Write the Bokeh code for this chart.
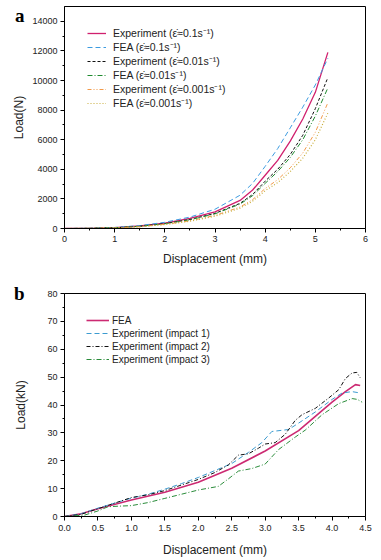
from bokeh.plotting import figure
from bokeh.models import (Range1d, FixedTicker, Legend, LegendItem, LinearAxis,
                          PrintfTickFormatter)
from bokeh.layouts import column
from bokeh.embed import file_html
from bokeh.resources import INLINE

FONT = "Liberation Sans"

# ---------------- panel a data ----------------
xa = [0, 0.5, 1, 1.5, 2, 2.5, 3, 3.5, 3.75, 4, 4.25, 4.5, 4.75, 5, 5.25]
exp_01 = [0, 15, 60, 170, 370, 680, 1120, 1900, 2600, 3600, 4600, 5900, 7400, 9200, 11900]
fea_01 = [0, 18, 70, 195, 420, 770, 1300, 2250, 3050, 4200, 5400, 6800, 8200, 9700, 11500]
exp_001 = [0, 12, 50, 150, 330, 610, 1020, 1700, 2300, 3200, 4000, 5000, 6300, 8100, 10200]
fea_001 = [0, 12, 48, 145, 320, 590, 990, 1650, 2220, 3050, 3850, 4800, 6000, 7600, 9500]
exp_0001 = [0, 8, 40, 120, 280, 520, 880, 1450, 1950, 2700, 3300, 4100, 5100, 6500, 8500]
fea_0001 = [0, 8, 38, 115, 265, 490, 830, 1370, 1850, 2550, 3100, 3850, 4750, 6000, 7800]
labels_a = ["Experiment (\u03b5\u0307\u22480.1s\u207b\u00b9)",
            "FEA (\u03b5\u0307\u22480.1s\u207b\u00b9)",
            "Experiment (\u03b5\u0307\u22480.01s\u207b\u00b9)",
            "FEA (\u03b5\u0307\u22480.01s\u207b\u00b9)",
            "Experiment (\u03b5\u0307\u22480.001s\u207b\u00b9)",
            "FEA (\u03b5\u0307\u22480.001s\u207b\u00b9)"]
xticks_a = [0, 1, 2, 3, 4, 5, 6]
yticks_a = [0, 2000, 4000, 6000, 8000, 10000, 12000, 14000]
panel_a = "a"

# ---------------- panel b data ----------------
x_fea = [0, 0.25, 0.5, 1.0, 1.5, 2.0, 2.5, 3.0, 3.5, 4.0, 4.2, 4.35, 4.42]
y_fea = [0, 1.0, 2.8, 5.9, 8.7, 12.3, 17.3, 23.5, 30.8, 41.0, 44.8, 47.3, 47.0]
x_e1 = [0, 0.25, 0.5, 0.75, 1.0, 1.25, 1.5, 1.75, 2.0, 2.25, 2.5, 2.75, 2.95, 3.1, 3.35, 3.5, 3.75, 4.0, 4.15, 4.3, 4.42]
y_e1 = [0, 1.0, 3.0, 4.8, 6.6, 8.0, 9.8, 11.8, 14.0, 16.5, 19.0, 23.0, 26.5, 30.5, 31.2, 33.5, 37.5, 42.0, 44.3, 44.8, 44.3]
x_e2 = [0, 0.25, 0.5, 0.75, 1.0, 1.25, 1.5, 1.75, 2.0, 2.25, 2.45, 2.6, 2.75, 2.9, 3.0, 3.15, 3.3, 3.45, 3.55, 3.75, 3.95, 4.1, 4.2, 4.3, 4.37, 4.42]
y_e2 = [0, 0.8, 2.8, 4.8, 6.8, 7.8, 9.3, 11.3, 13.3, 15.8, 18.5, 22.0, 22.5, 24.5, 26.0, 26.5, 29.5, 34.5, 36.5, 38.8, 42.5, 45.5, 49.5, 51.5, 51.7, 49.8]
x_e3 = [0, 0.3, 0.5, 0.65, 0.8, 1.0, 1.25, 1.5, 1.75, 2.0, 2.3, 2.45, 2.6, 2.8, 3.0, 3.2, 3.45, 3.6, 3.85, 4.1, 4.3, 4.38, 4.45]
y_e3 = [0, 0.5, 2.0, 3.5, 3.7, 3.9, 5.0, 6.5, 8.0, 9.5, 10.8, 13.5, 16.3, 17.2, 18.8, 24.0, 28.5, 31.0, 36.5, 40.5, 42.3, 42.0, 41.0]
labels_b = ["FEA", "Experiment (impact 1)", "Experiment (impact 2)", "Experiment (impact 3)"]
xticks_b = [0, 0.5, 1.0, 1.5, 2.0, 2.5, 3.0, 3.5, 4.0, 4.5]
yticks_b = [0, 10, 20, 30, 40, 50, 60, 70, 80]
panel_b = "b"


def style(p, xticks, yticks, xminor, yminor):
    p.xgrid.visible = False
    p.ygrid.visible = False
    p.outline_line_color = "black"
    p.outline_line_width = 1
    p.outline_line_alpha = 1
    p.background_fill_color = "white"
    p.border_fill_color = "white"
    p.xaxis.ticker = FixedTicker(ticks=xticks, minor_ticks=xminor)
    p.yaxis.ticker = FixedTicker(ticks=yticks, minor_ticks=yminor)
    for ax in (p.xaxis[0], p.yaxis[0]):
        ax.axis_line_color = "black"
        ax.major_tick_line_color = "black"
        ax.minor_tick_line_color = "black"
        ax.major_tick_out = 4
        ax.major_tick_in = 0
        ax.minor_tick_out = 2
        ax.minor_tick_in = 0
        ax.major_label_text_font = FONT
        ax.major_label_text_font_size = "9px"
        ax.major_label_text_color = "#222222"
        ax.axis_label_text_font = FONT
        ax.axis_label_text_font_size = "12px"
        ax.axis_label_text_font_style = "normal"
        ax.axis_label_text_color = "#222222"
        ax.major_label_standoff = 3


def panel_letter(p, text, yval, standoff):
    # an extra, bare left axis whose only tick label is the panel letter
    ax = LinearAxis(ticker=FixedTicker(ticks=[yval], minor_ticks=[]),
                    major_label_overrides={yval: text},
                    axis_line_alpha=0, major_tick_out=0, major_tick_in=0,
                    minor_tick_out=0, minor_tick_in=0,
                    major_label_standoff=standoff,
                    major_label_text_font="Liberation Serif",
                    major_label_text_font_style="bold",
                    major_label_text_font_size="19px",
                    major_label_text_color="black")
    p.add_layout(ax, "left")


# ---------------- figure a ----------------
pa = figure(width=376, height=268, output_backend="svg", toolbar_location=None,
            x_range=Range1d(0, 6), y_range=Range1d(0, 15000),
            min_border_left=64, min_border_right=8, min_border_top=6, min_border_bottom=40)
style(pa, xticks_a, yticks_a, [0.5, 1.5, 2.5, 3.5, 4.5, 5.5],
      [1000, 3000, 5000, 7000, 9000, 11000, 13000])
pa.xaxis.axis_label = "Displacement (mm)"
pa.xaxis.axis_label_standoff = 7
pa.yaxis.axis_label = "Load(N)"
pa.yaxis.axis_label_standoff = 3

ra = [
    pa.line(xa, exp_01, line_color="#D0206E", line_width=1.3),
    pa.line(xa, fea_01, line_color="#3C9BE0", line_width=1, line_dash="5 3"),
    pa.line(xa, exp_001, line_color="#111111", line_width=1, line_dash="3 2"),
    pa.line(xa, fea_001, line_color="#1E8A2E", line_width=1, line_dash="5 2 1 2"),
    pa.line(xa, exp_0001, line_color="#F29A4A", line_width=1, line_dash="4 2 1 2 1 2"),
    pa.line(xa, fea_0001, line_color="#C9AE3C", line_width=1.2, line_dash="1 2"),
]
leg_a = Legend(items=[LegendItem(label=l, renderers=[r]) for l, r in zip(labels_a, ra)],
               location=(18, 113), padding=5, spacing=0,
               glyph_width=19, glyph_height=12, label_height=12, label_standoff=7,
               label_text_font=FONT, label_text_font_size="10.5px",
               label_text_color="#222222",
               border_line_alpha=0, background_fill_alpha=0)
pa.add_layout(leg_a)
panel_letter(pa, panel_a, 14400, -15)

# ---------------- figure b ----------------
pb = figure(width=376, height=291, output_backend="svg", toolbar_location=None,
            x_range=Range1d(0, 4.5), y_range=Range1d(0, 80),
            min_border_left=60, min_border_right=11, min_border_top=25, min_border_bottom=43)
style(pb, xticks_b, yticks_b,
      [0.25, 0.75, 1.25, 1.75, 2.25, 2.75, 3.25, 3.75, 4.25],
      [5, 15, 25, 35, 45, 55, 65, 75])
pb.xaxis.formatter = PrintfTickFormatter(format="%.1f")
pb.xaxis.major_label_standoff = 4
pb.xaxis.axis_label = "Displacement (mm)"
pb.xaxis.axis_label_standoff = 9
pb.yaxis.axis_label = "Load(kN)"
pb.yaxis.axis_label_standoff = 16

rb = [
    pb.line(x_fea, y_fea, line_color="#CC2A72", line_width=1.6),
    pb.line(x_e1, y_e1, line_color="#3C9BD0", line_width=1, line_dash="5 3"),
    pb.line(x_e2, y_e2, line_color="#111111", line_width=1, line_dash="4 2 1 2"),
    pb.line(x_e3, y_e3, line_color="#2A8C3A", line_width=1, line_dash="5 2 1 2"),
]
leg_b = Legend(items=[LegendItem(label=l, renderers=[r]) for l, r in zip(labels_b, rb)],
               location=(17, 146), padding=5, spacing=1,
               glyph_width=23, glyph_height=12, label_height=12, label_standoff=3,
               label_text_font=FONT, label_text_font_size="10px",
               label_text_color="#222222",
               border_line_alpha=0, background_fill_alpha=0)
pb.add_layout(leg_b)
panel_letter(pb, panel_b, 80, -13)

layout = column(pa, pb, spacing=0)
open("out.html", "w").write(file_html(layout, INLINE))
